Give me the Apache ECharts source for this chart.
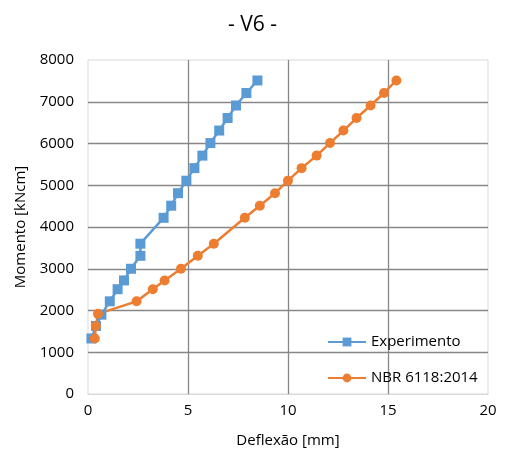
<!DOCTYPE html>
<html>
<head>
<meta charset="utf-8">
<script src="https://cdn.jsdelivr.net/npm/echarts@6/dist/echarts.min.js"></script>
<style>html,body{margin:0;padding:0;background:#fff}#c{width:505px;height:454px}</style>
</head>
<body>
<div id="c"></div>
<script>
const expX = [0.17, 0.40, 0.67, 1.09, 1.48, 1.80, 2.15, 2.62, 2.62, 3.78, 4.16, 4.50, 4.92, 5.32, 5.72, 6.12, 6.56, 6.98, 7.40, 7.92, 8.47];
const expY = [1330, 1630, 1900, 2220, 2510, 2720, 3000, 3310, 3600, 4220, 4510, 4810, 5110, 5410, 5710, 6010, 6310, 6610, 6910, 7210, 7510];
const nbrX = [0.34, 0.39, 0.50, 2.43, 3.24, 3.83, 4.65, 5.49, 6.29, 7.84, 8.59, 9.35, 10.0, 10.68, 11.43, 12.10, 12.77, 13.43, 14.13, 14.80, 15.42];
const nbrY = [1330, 1630, 1920, 2220, 2510, 2720, 3000, 3310, 3600, 4220, 4510, 4810, 5110, 5410, 5710, 6010, 6310, 6610, 6910, 7210, 7510];
const seriesNames = ['Experimento', 'NBR 6118:2014'];
const titleText = '- V6 -';
const xName = 'Deflexão [mm]';
const yName = 'Momento [kNcm]';

const FONT = '"Open Sans", sans-serif';
const chart = echarts.init(document.getElementById('c'));
chart.setOption({
  animation: false,
  backgroundColor: '#fff',
  title: { text: titleText, left: 'center', top: 10, textStyle: { fontFamily: FONT, fontSize: 21, fontWeight: 'normal', color: '#000' } },
  grid: { left: 88, right: 17, top: 60, bottom: 60, show: true, borderColor: '#d9d9d9', borderWidth: 1, containLabel: false },
  legend: {
    orient: 'vertical', left: 322, top: 328,
    itemWidth: 38, itemHeight: 11, itemGap: 18,
    textStyle: { fontFamily: FONT, fontSize: 15, color: '#000', lineHeight: 18 },
    data: seriesNames
  },
  xAxis: {
    type: 'value', min: 0, max: 20, interval: 5,
    name: xName, nameLocation: 'middle', nameGap: 39,
    nameTextStyle: { fontFamily: FONT, fontSize: 15, color: '#000' },
    axisLine: { show: true, lineStyle: { color: '#d9d9d9', width: 1 } },
    axisTick: { show: false },
    axisLabel: { fontFamily: FONT, fontSize: 15, color: '#000', margin: 9 },
    splitLine: { show: true, showMinLine: false, showMaxLine: false, lineStyle: { color: '#878787', width: 1.3 } }
  },
  yAxis: {
    type: 'value', min: 0, max: 8000, interval: 1000,
    name: yName, nameLocation: 'middle', nameGap: 60,
    nameTextStyle: { fontFamily: FONT, fontSize: 15, color: '#000' },
    axisLine: { show: false },
    axisTick: { show: false },
    axisLabel: { fontFamily: FONT, fontSize: 15, color: '#000', margin: 14, formatter: v => String(v) },
    splitLine: { show: true, showMinLine: false, showMaxLine: false, lineStyle: { color: '#878787', width: 1.3 } }
  },
  series: [
    {
      name: seriesNames[0], type: 'line',
      data: expX.map((x, i) => [x, expY[i]]),
      symbol: 'rect', symbolSize: 10,
      lineStyle: { color: '#5B9BD5', width: 2.5 },
      itemStyle: { color: '#5B9BD5' }
    },
    {
      name: seriesNames[1], type: 'line',
      data: nbrX.map((x, i) => [x, nbrY[i]]),
      symbol: 'circle', symbolSize: 10,
      lineStyle: { color: '#ED7D31', width: 2.5 },
      itemStyle: { color: '#ED7D31' }
    }
  ]
});
</script>
</body>
</html>
